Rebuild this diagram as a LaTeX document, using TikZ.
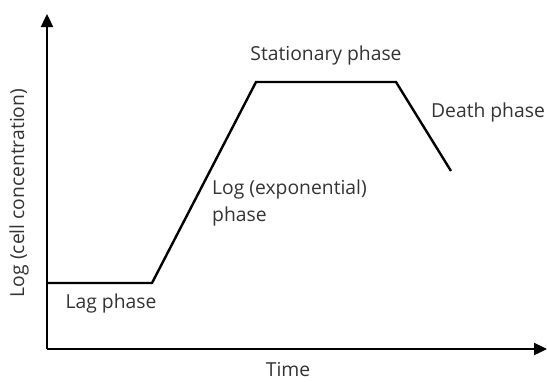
\documentclass[tikz,border=0pt]{standalone}
\usepackage{fontspec}
\setmainfont{Open Sans}
\usetikzlibrary{arrows.meta}
\begin{document}
\begin{tikzpicture}[x=1pt,y=-1pt,
  lbl/.style={text=black!80,font=\fontsize{19.3}{27}\selectfont,inner sep=0pt},
  axis/.style={line width=2.4pt,-{Triangle[length=13pt,width=12pt]}},
  curve/.style={line width=2.4pt,line join=miter}]
\useasboundingbox (0,0) rectangle (547,381);
\coordinate (o) at (47,349);
\coordinate (ytop) at (47,14);
\coordinate (xend) at (547,349);
\coordinate (p0) at (47,283);
\coordinate (p1) at (152,283);
\coordinate (p2) at (256,82);
\coordinate (p3) at (396,82);
\coordinate (p4) at (451,171);
\draw[axis] (o) -- (ytop);
\draw[axis] (o) -- (xend);
\draw[curve] (p0) -- (p1) -- (p2) -- (p3) -- (p4);
\node[lbl] (lag) at (111,303) {Lag phase};
\node[lbl,anchor=west,align=left] (log) at (212,203) {Log (exponential)\\phase};
\node[lbl] (stat) at (326,55) {Stationary phase};
\node[lbl] (death) at (488,112) {Death phase};
\node[lbl] (time) at (288,370) {Time};
\node[lbl,rotate=90] (ylab) at (19,193) {Log (cell concentration)};
\end{tikzpicture}
\end{document}
